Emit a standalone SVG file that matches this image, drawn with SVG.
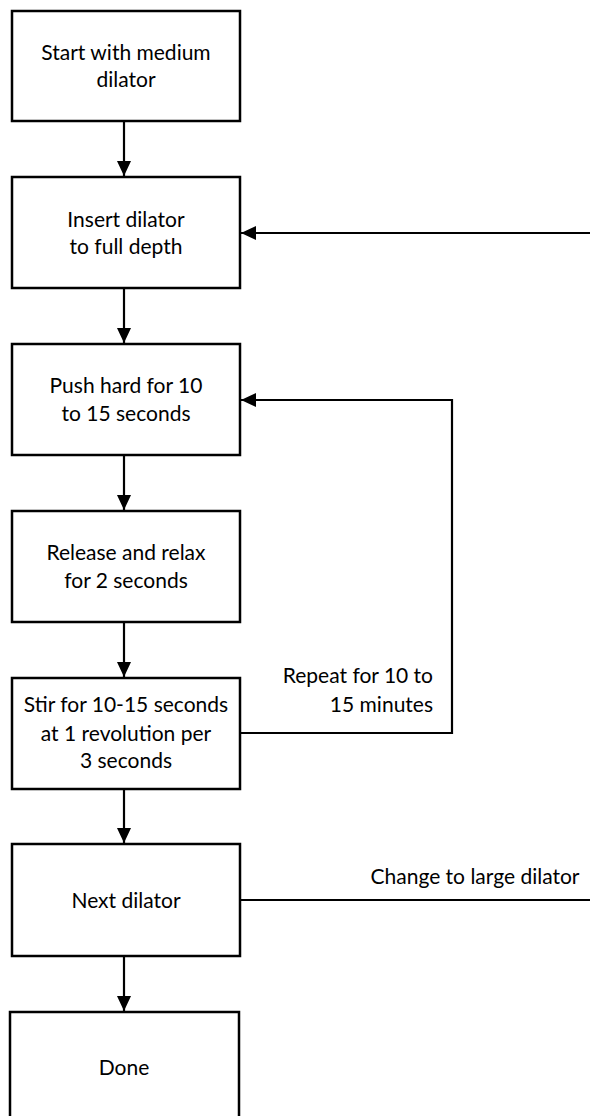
<svg xmlns="http://www.w3.org/2000/svg" width="590" height="1116" viewBox="0 0 590 1116">
<style>
.box{fill:#fff;stroke:#000;stroke-width:2.5}
.ln{fill:none;stroke:#000;stroke-width:2.2}
text{font-family:Lato,"Open Sans","Liberation Sans",sans-serif;font-size:21px;fill:#000}
.c{text-anchor:middle}
.e{text-anchor:end}
</style>
<defs>
<marker id="ah" viewBox="0 0 15 14" refX="15" refY="7" markerWidth="15" markerHeight="14" markerUnits="userSpaceOnUse" orient="auto">
<path d="M0,0 L15,7 L0,14 z" fill="#000"/>
</marker>
</defs>
<rect width="590" height="1116" fill="#fff"/>
<g id="connectors">
<line class="ln" x1="124" y1="121" x2="124" y2="176" marker-end="url(#ah)"/>
<line class="ln" x1="124" y1="288" x2="124" y2="343" marker-end="url(#ah)"/>
<line class="ln" x1="124" y1="455" x2="124" y2="510" marker-end="url(#ah)"/>
<line class="ln" x1="124" y1="622" x2="124" y2="677" marker-end="url(#ah)"/>
<line class="ln" x1="124" y1="789" x2="124" y2="843" marker-end="url(#ah)"/>
<line class="ln" x1="124" y1="956" x2="124" y2="1011" marker-end="url(#ah)"/>
<line class="ln" x1="590" y1="233" x2="241" y2="233" marker-end="url(#ah)"/>
<polyline class="ln" points="241,733 452,733 452,400 241,400" marker-end="url(#ah)"/>
<line class="ln" x1="241" y1="900" x2="590" y2="900"/>
<text class="e" x="433" y="683">Repeat for 10 to</text>
<text class="e" x="433" y="712">15 minutes</text>
<text class="c" x="475" y="884">Change to large dilator</text>
</g>
<g id="n1">
<rect class="box" x="12" y="11" width="228" height="110"/>
<text class="c" x="126" y="60">Start with medium</text>
<text class="c" x="126" y="87">dilator</text>
</g>
<g id="n2">
<rect class="box" x="12" y="177" width="228" height="111"/>
<text class="c" x="126" y="227">Insert dilator</text>
<text class="c" x="126" y="254">to full depth</text>
</g>
<g id="n3">
<rect class="box" x="12" y="344" width="228" height="111"/>
<text class="c" x="126" y="393">Push hard for 10</text>
<text class="c" x="126" y="421">to 15 seconds</text>
</g>
<g id="n4">
<rect class="box" x="12" y="511" width="228" height="111"/>
<text class="c" x="126" y="560">Release and relax</text>
<text class="c" x="126" y="588">for 2 seconds</text>
</g>
<g id="n5">
<rect class="box" x="12" y="678" width="228" height="111"/>
<text class="c" x="126" y="712">Stir for 10-15 seconds</text>
<text class="c" x="126" y="741">at 1 revolution per</text>
<text class="c" x="126" y="768">3 seconds</text>
</g>
<g id="n6">
<rect class="box" x="12" y="844" width="228" height="112"/>
<text class="c" x="126" y="908">Next dilator</text>
</g>
<g id="n7">
<rect class="box" x="10" y="1012" width="229" height="112"/>
<text class="c" x="124" y="1075">Done</text>
</g>
</svg>
